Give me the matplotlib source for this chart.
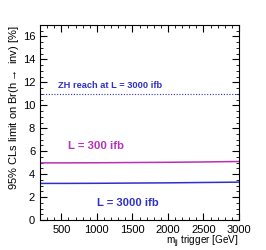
import matplotlib
matplotlib.use("Agg")
import matplotlib.pyplot as plt
from matplotlib.ticker import MultipleLocator

plt.rcParams['font.family'] = ['Liberation Sans', 'DejaVu Sans']
plt.rcParams['mathtext.fontset'] = 'custom'
plt.rcParams['mathtext.rm'] = 'Liberation Sans'

mjj = [200, 500, 1000, 1500, 2000, 2500, 3000]
limit_300 = [4.98, 4.98, 4.99, 5.01, 5.03, 5.06, 5.1]
limit_3000 = [3.19, 3.19, 3.2, 3.22, 3.24, 3.27, 3.3]
zh_reach = 11.0

fig = plt.figure(figsize=(2.66, 2.5), dpi=100)
ax = fig.add_axes([40/266, 30/250, 199/266, 195/250])
ax.plot(mjj, limit_300, color="#b830b8", lw=1.1)
ax.plot(mjj, limit_3000, color="#3030c8", lw=1.1)
ax.axhline(zh_reach, color="#3030c8", lw=0.8, ls=(0, (1, 1.5)))

ax.set_xlim(200, 3000)
ax.set_ylim(0, 17)
ax.xaxis.set_major_locator(MultipleLocator(500))
ax.xaxis.set_minor_locator(MultipleLocator(100))
ax.yaxis.set_major_locator(MultipleLocator(2))
ax.yaxis.set_minor_locator(MultipleLocator(0.5))
ax.tick_params(which="both", direction="in", top=True, right=True, labelsize=8)
ax.tick_params(which="major", length=5)
ax.tick_params(which="minor", length=2.5)

ax.text(450, 11.75, "ZH reach at L = 3000 ifb", color="#3030c8", fontsize=6.7, fontweight="bold", va="center")
ax.text(590, 6.45, "L = 300 ifb", color="#b830b8", fontsize=8.2, fontweight="bold", va="center")
ax.text(1000, 1.45, "L = 3000 ifb", color="#3030c8", fontsize=8.1, fontweight="bold", va="center")

ax.set_ylabel(r"95% CLs limit on Br(h$\rightarrow$ inv) [%]", fontsize=8, loc="top", labelpad=1)
ax.set_xlabel(r"m$_{\rm jj}$ trigger [GeV]", fontsize=7.2, loc="right", labelpad=-1)

fig.savefig("out.png", dpi=100)
